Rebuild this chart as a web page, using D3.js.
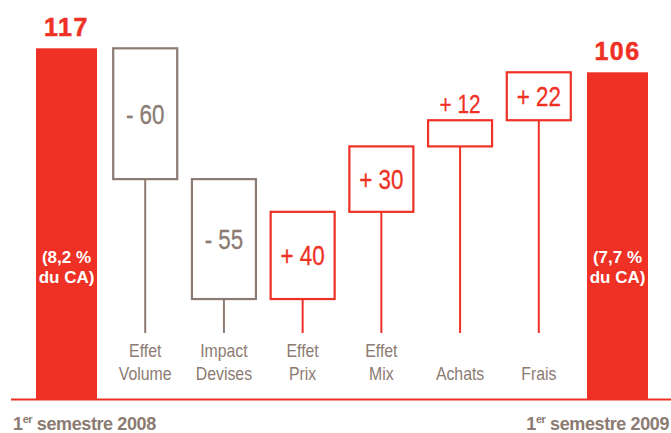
<!DOCTYPE html>
<html>
<head>
<meta charset="utf-8">
<style>
  html, body { margin: 0; padding: 0; background: #fff; }
  svg { display: block; }
</style>
</head>
<body>
<div id="container"></div>
<script src="https://cdn.jsdelivr.net/npm/d3@7"></script>
<script>
const RED = "#ee3124";
const GREY = "#8b7b72";

// data
const totals = [117, 106];
const totalNotes = [["(8,2 %", "du CA)"], ["(7,7 %", "du CA)"]];
const periods = ["semestre 2008", "semestre 2009"];
const stepLabels = [["Effet", "Volume"], ["Impact", "Devises"], ["Effet", "Prix"], ["Effet", "Mix"], ["Achats"], ["Frais"]];
const stepValues = [-60, -55, 40, 30, 12, 22];

const width = 671, height = 433;
const baseY = 399.5;
const narrow = 0.8; // the source uses a condensed face

// cumulative levels
let level = totals[0];
const steps = stepValues.map((v, i) => {
  const s = { i: i, v: v, from: level, to: level + v, label: stepLabels[i] };
  level += v;
  return s;
});

const keys = d3.range(stepValues.length + 2);
const x = d3.scalePoint().domain(keys).range([66.5, 617.5]);
const y = d3.scaleLinear().domain([0, 117]).range([303.4, 48.3]);

const svg = d3.select("#container").append("svg")
    .attr("width", width)
    .attr("height", height)
    .style("font-family", "'Liberation Sans', Arial, sans-serif");

// baseline
svg.append("line")
    .attr("x1", 11).attr("x2", width)
    .attr("y1", baseY).attr("y2", baseY)
    .attr("stroke", RED).attr("stroke-width", 2.2);

// total bars
const totalData = totals.map((t, i) => ({ t: t, k: i === 0 ? keys[0] : keys[keys.length - 1], note: totalNotes[i], period: periods[i], first: i === 0 }));
const barW = 61;

svg.selectAll("rect.total").data(totalData).enter().append("rect")
    .attr("class", "total")
    .attr("x", d => x(d.k) - barW / 2)
    .attr("width", barW)
    .attr("y", d => y(d.t))
    .attr("height", d => baseY - y(d.t))
    .attr("fill", RED);

svg.selectAll("text.tval").data(totalData).enter().append("text")
    .attr("class", "tval")
    .attr("x", d => x(d.k))
    .attr("y", d => y(d.t) - 12)
    .attr("text-anchor", "middle")
    .attr("fill", RED)
    .attr("stroke", RED).attr("stroke-width", 0.5)
    .attr("font-weight", "bold")
    .attr("font-size", 25)
    .attr("letter-spacing", 1.5)
    .text(d => d.t);

const notes = svg.selectAll("text.note").data(totalData).enter().append("text")
    .attr("class", "note")
    .attr("text-anchor", "middle")
    .attr("fill", "#fff")
    .attr("font-weight", "bold")
    .attr("font-size", 17);
notes.selectAll("tspan").data(d => d.note.map(n => ({ n: n, k: d.k }))).enter().append("tspan")
    .attr("x", d => x(d.k))
    .attr("y", (d, j) => 263 + j * 20)
    .text(d => d.n);

// period labels under the baseline
const per = svg.selectAll("text.period").data(totalData).enter().append("text")
    .attr("class", "period")
    .attr("x", d => d.first ? 13 : 669)
    .attr("y", 430)
    .attr("text-anchor", d => d.first ? "start" : "end")
    .attr("fill", GREY)
    .attr("font-weight", "bold")
    .attr("font-size", 18)
    .attr("letter-spacing", -0.4);
per.append("tspan").text("1");
per.append("tspan").attr("font-size", 11).attr("dy", -7).text("er");
per.append("tspan").attr("dy", 7).text(d => " " + d.period);

// step boxes
const boxW = 64;
const stemEnd = 333;
const col = d => d.v < 0 ? GREY : RED;
const small = d => Math.abs(y(d.from) - y(d.to)) < 40;

const g = svg.selectAll("g.step").data(steps).enter().append("g").attr("class", "step");

g.append("line")
    .attr("x1", d => x(d.i + 1)).attr("x2", d => x(d.i + 1))
    .attr("y1", d => y(Math.min(d.from, d.to)))
    .attr("y2", stemEnd)
    .attr("stroke", col).attr("stroke-width", 2);

g.append("rect")
    .attr("x", d => x(d.i + 1) - boxW / 2)
    .attr("width", boxW)
    .attr("y", d => y(Math.max(d.from, d.to)))
    .attr("height", d => Math.abs(y(d.from) - y(d.to)))
    .attr("fill", "#fff")
    .attr("stroke", col).attr("stroke-width", 2.2);

g.append("text")
    .attr("transform", d => {
      const top = y(Math.max(d.from, d.to)), bot = y(Math.min(d.from, d.to));
      const ty = small(d) ? top - 7 : (top + bot) / 2 + 10;
      return `translate(${x(d.i + 1)},${ty}) scale(${narrow},1)`;
    })
    .attr("text-anchor", "middle")
    .attr("fill", col)
    .attr("stroke", col).attr("stroke-width", 0.3)
    .attr("font-size", d => small(d) ? 26 : 28)
    .text(d => (d.v < 0 ? "- " : "+ ") + Math.abs(d.v));

const lab = g.append("text")
    .attr("transform", d => `translate(${x(d.i + 1)},0) scale(0.88,1)`)
    .attr("text-anchor", "middle")
    .attr("fill", GREY)
    .attr("font-size", 18);
lab.selectAll("tspan").data(d => d.label.map((l, j) => ({ l: l, row: j + 2 - d.label.length }))).enter().append("tspan")
    .attr("x", 0)
    .attr("y", d => 357 + d.row * 23)
    .text(d => d.l);
</script>
</body>
</html>
